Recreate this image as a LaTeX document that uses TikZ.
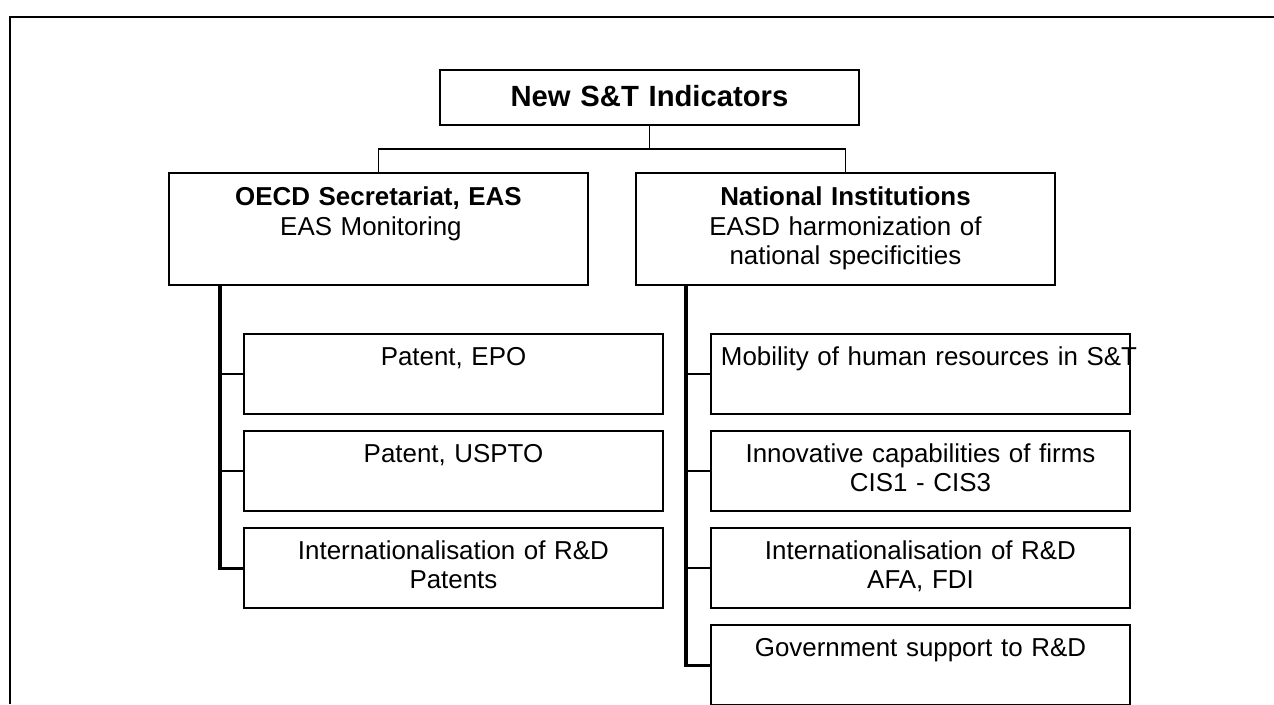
\documentclass[tikz,border=0pt]{standalone}
\usepackage{fontspec}
\setmainfont{Liberation Sans}
\usetikzlibrary{positioning}

\begin{document}
\begin{tikzpicture}[
  node distance=4.5mm and 12.7mm,
  font=\fontsize{19.5}{22.1}\selectfont,
  box/.style={draw, line width=1.3pt, align=center, text width=105.56mm, inner xsep=2.65mm, inner ysep=0pt, outer sep=0pt},
  headbox/.style={box, font=\fontsize{22}{26}\selectfont\bfseries, text height=9.71mm, text depth=4.84mm},
  groupbox/.style={box, text height=8.65mm, text depth=20.98mm},
  itembox/.style={box, text height=8.2mm, text depth=12.96mm},
  link/.style={line width=1.1pt},
  trunk/.style={line width=2.3pt}
]
\useasboundingbox (0,0) rectangle (337.08mm,-186.27mm);
% open frame round the chart
\draw[line width=1.4pt] (2.65mm,-186.27mm) -- (2.65mm,-4.5mm) -- (337.08mm,-4.5mm);

\node[headbox, anchor=north] (top) at (171.84mm,-18.52mm) {New S\&T Indicators};
\node[groupbox, anchor=north] (oecd) at (100.14mm,-45.77mm) {\textbf{OECD Secretariat, EAS}\\EAS Monitoring\hspace{4mm}\mbox{}};
\node[groupbox, right=of oecd] (nat) {\textbf{National Institutions}\\EASD harmonization of\\national specificities};

% left column
\node[itembox, below=13mm of oecd, xshift=19.84mm] (epo) {Patent, EPO};
\node[itembox, below=of epo] (uspto) {Patent, USPTO};
\node[itembox, below=of uspto] (intlpat) {Internationalisation of R\&D\\Patents};

% right column
\node[itembox, below=13mm of nat, xshift=19.84mm] (mobility) {\mbox{Mobility of human resources in S\&T}};
\node[itembox, below=of mobility] (innov) {Innovative capabilities of firms\\CIS1 - CIS3};
\node[itembox, below=of innov] (intlfdi) {Internationalisation of R\&D\\AFA, FDI};
\node[itembox, below=of intlfdi] (govt) {Government support to R\&D};

\draw[link] (top.south) -- ++(0,-6.35mm);
\draw[link] (oecd.north) -- ++(0,6.35mm) -| (nat.north);

\coordinate (oecdtrunk) at ([xshift=13.5mm]oecd.south west);
\coordinate (nattrunk) at ([xshift=13.23mm]nat.south west);
\draw[trunk] (oecdtrunk) |- (intlpat.west);
\draw[link] (oecdtrunk |- epo.west) -- (epo.west);
\draw[link] (oecdtrunk |- uspto.west) -- (uspto.west);
\draw[trunk] (nattrunk) |- (govt.west);
\draw[link] (nattrunk |- mobility.west) -- (mobility.west);
\draw[link] (nattrunk |- innov.west) -- (innov.west);
\draw[link] (nattrunk |- intlfdi.west) -- (intlfdi.west);
\end{tikzpicture}
\end{document}
